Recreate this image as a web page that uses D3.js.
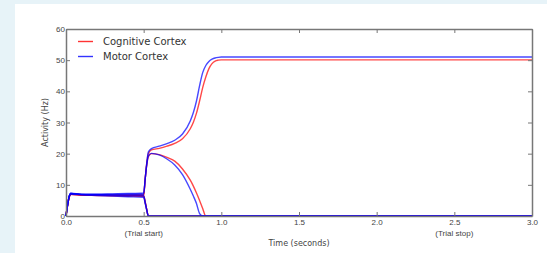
<!DOCTYPE html>
<html>
<head>
<meta charset="utf-8">
<script src="https://cdn.jsdelivr.net/npm/d3@7"></script>
<style>
  body { margin: 0; background: #e7f3f8; }
  svg { display: block; font-family: "DejaVu Sans", sans-serif; }
  .axis text { fill: #444; font-size: 8px; }
  .axis path, .axis line { stroke: #777; }
</style>
</head>
<body>
<div id="chart"></div>
<script>
// time grid (seconds)
const times = [0, 0.01, 0.02, 0.03, 0.1, 0.2, 0.3, 0.4, 0.5, 0.51, 0.52, 0.53, 0.55, 0.6, 0.65, 0.7, 0.75,
  0.8, 0.82, 0.84, 0.86, 0.88, 0.9, 0.92, 0.94, 0.96, 0.98, 1.0, 1.1, 1.5, 2.0, 2.5, 3.0];

// cognitive cortex units (Hz)
const cogWinner = [0, 3.4, 6.0, 7.0, 6.8, 6.7, 6.7, 6.7, 6.6, 12, 17, 20, 21.2, 21.7, 22.4, 23.3, 24.8,
  28.0, 30.1, 33.0, 36.9, 41.2, 44.6, 47.3, 48.9, 49.7, 50.0, 50.1, 50.1, 50.1, 50.1, 50.1, 50.1];
const cogLoser = [0, 3.4, 6.0, 7.0, 6.8, 6.7, 6.7, 6.7, 6.8, 12, 16.5, 19, 20.0, 19.7, 18.8, 17.6, 15.1,
  11.5, 9.6, 7.4, 5.0, 2.4, 0, 0, 0, 0, 0, 0, 0, 0, 0, 0, 0];
const cogOther1 = [0, 3.4, 6.0, 7.0, 6.8, 6.7, 6.6, 6.5, 6.5, 4.5, 2, 0, 0, 0, 0, 0, 0,
  0, 0, 0, 0, 0, 0, 0, 0, 0, 0, 0, 0, 0, 0, 0, 0];
const cogOther2 = [0, 3.4, 6.0, 7.0, 6.7, 6.6, 6.5, 6.4, 6.3, 4.3, 2, 0, 0, 0, 0, 0, 0,
  0, 0, 0, 0, 0, 0, 0, 0, 0, 0, 0, 0, 0, 0, 0, 0];

// motor cortex units (Hz)
const motWinner = [0, 3.5, 6.2, 7.3, 7.0, 7.0, 7.1, 7.2, 7.4, 12, 17, 20.5, 21.6, 22.4, 23.2, 24.3, 26.3,
  30.5, 33.2, 36.9, 41.8, 46.0, 48.3, 49.6, 50.3, 50.7, 50.9, 51.0, 51.0, 51.0, 51.0, 51.0, 51.0];
const motLoser = [0, 3.5, 6.2, 7.2, 6.9, 6.9, 6.9, 7.0, 7.0, 12, 16.5, 19.2, 20.1, 19.6, 18.3, 16.4, 13.3,
  8.6, 6.4, 4.0, 0.8, 0, 0, 0, 0, 0, 0, 0, 0, 0, 0, 0, 0];
const motOther1 = [0, 3.5, 6.2, 7.2, 6.9, 6.8, 6.7, 6.6, 6.5, 4.4, 2, 0, 0, 0, 0, 0, 0,
  0, 0, 0, 0, 0, 0, 0, 0, 0, 0, 0, 0, 0, 0, 0, 0];
const motOther2 = [0, 3.4, 6.0, 7.0, 6.8, 6.6, 6.4, 6.2, 6.0, 4.0, 1.8, 0, 0, 0, 0, 0, 0,
  0, 0, 0, 0, 0, 0, 0, 0, 0, 0, 0, 0, 0, 0, 0, 0];

const xTicks = [0, 0.5, 1.0, 1.5, 2.0, 2.5, 3.0];
const yTicks = [0, 10, 20, 30, 40, 50, 60];
const xNotes = [[0.5, "(Trial start)"], [2.5, "(Trial stop)"]];
const legendItems = [["Cognitive Cortex", "#ff0000"], ["Motor Cortex", "#0000ff"]];

const W = 547, H = 253;
const margin = { top: 29, right: 15, bottom: 37, left: 66 },
  width = W - margin.left - margin.right,
  height = H - margin.top - margin.bottom;

const svg = d3.select("#chart").append("svg")
  .attr("width", W)
  .attr("height", H);

// white panel
svg.append("rect")
  .attr("x", 15).attr("y", 4)
  .attr("width", W - 15).attr("height", H - 4)
  .attr("fill", "#fff");

const g = svg.append("g")
  .attr("transform", `translate(${margin.left},${margin.top})`);

const x = d3.scaleLinear().domain([0, 3]).range([0, width]);
const y = d3.scaleLinear().domain([0, 60]).range([height, 0]);

const line = d3.line()
  .x(d => x(d[0]))
  .y(d => y(d[1]))
  .curve(d3.curveMonotoneX);

const series = [
  [cogOther1, "#ff0000"], [cogOther2, "#ff0000"], [cogLoser, "#ff0000"], [cogWinner, "#ff0000"],
  [motOther1, "#0000ff"], [motOther2, "#0000ff"], [motLoser, "#0000ff"], [motWinner, "#0000ff"]
];

g.selectAll(".unit")
  .data(series)
  .join("path")
  .attr("class", "unit")
  .attr("fill", "none")
  .attr("stroke", d => d[1])
  .attr("stroke-opacity", 0.72)
  .attr("stroke-width", 1.4)
  .attr("d", d => line(times.map((t, i) => [t, d[0][i]])));

// axes, ticks inward on all four sides
const xAxis = g.append("g").attr("class", "axis")
  .attr("transform", `translate(0,${height})`)
  .call(d3.axisBottom(x).tickValues(xTicks).tickFormat(d3.format(".1f")).tickSizeInner(-4).tickSizeOuter(0).tickPadding(3));
g.append("g").attr("class", "axis")
  .call(d3.axisTop(x).tickValues(xTicks).tickFormat("").tickSizeInner(-4).tickSizeOuter(0));
g.append("g").attr("class", "axis")
  .call(d3.axisLeft(y).tickValues(yTicks).tickSizeInner(-4).tickSizeOuter(0).tickPadding(1));
g.append("g").attr("class", "axis")
  .attr("transform", `translate(${width},0)`)
  .call(d3.axisRight(y).tickValues(yTicks).tickFormat("").tickSizeInner(-4).tickSizeOuter(0));

g.selectAll(".axis path").attr("stroke-width", 1.5);

xAxis.selectAll(".note")
  .data(xNotes)
  .join("text")
  .attr("class", "note")
  .attr("x", d => x(d[0]))
  .attr("y", 20)
  .attr("text-anchor", "middle")
  .attr("fill", "#444")
  .style("font-size", "8px")
  .text(d => d[1]);

// axis titles
g.append("text")
  .attr("x", width / 2)
  .attr("y", height + 30)
  .attr("text-anchor", "middle")
  .attr("fill", "#444")
  .style("font-size", "8px")
  .text("Time (seconds)");

g.append("text")
  .attr("transform", `translate(-18,${height / 2}) rotate(-90)`)
  .attr("text-anchor", "middle")
  .attr("fill", "#444")
  .style("font-size", "8px")
  .text("Activity (Hz)");

// legend
const legend = g.selectAll(".legend")
  .data(legendItems)
  .join("g")
  .attr("class", "legend")
  .attr("transform", (d, i) => `translate(12,${12.5 + i * 15})`);

legend.append("line")
  .attr("x1", 0).attr("x2", 15)
  .attr("stroke", d => d[1])
  .attr("stroke-opacity", 0.8)
  .attr("stroke-width", 1.4);

legend.append("text")
  .attr("x", 25)
  .attr("y", 3.5)
  .attr("fill", "#333")
  .style("font-size", "10px")
  .text(d => d[0]);
</script>
</body>
</html>
